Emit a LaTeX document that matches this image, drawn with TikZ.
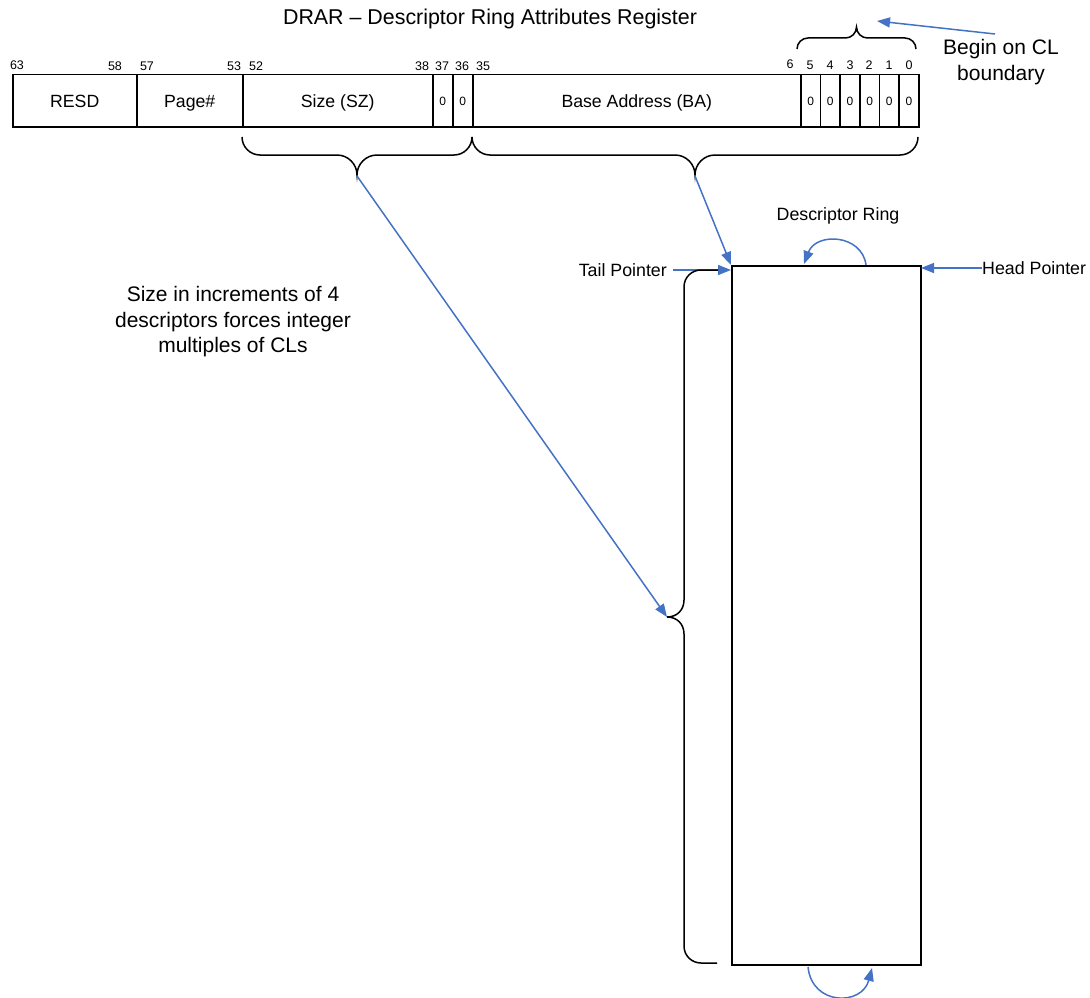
\documentclass[tikz,border=0pt]{standalone}
\usepackage{fontspec}
\setmainfont{Liberation Sans}
\usetikzlibrary{arrows.meta}
\definecolor{ptrblue}{HTML}{4472C4}

% horizontal curly brace: x1, x2, y of the ends, y of the bar, y of the tip
\newcommand\regbrace[5]{%
  \pgfmathsetmacro\bxm{(#1+#2)/2}%
  \pgfmathsetmacro\bra{abs(#4-#3)}%
  \pgfmathsetmacro\brb{abs(#5-#4)}%
  \draw[bracket] (#1,#3)
    .. controls (#1,{#3+0.55*(#4-#3)}) and ({#1+0.45*\bra},#4) .. ({#1+\bra},#4)
    -- ({\bxm-\brb},#4)
    .. controls ({\bxm-0.45*\brb},#4) and (\bxm,{#4+0.45*(#5-#4)}) .. (\bxm,#5)
    .. controls (\bxm,{#4+0.45*(#5-#4)}) and ({\bxm+0.45*\brb},#4) .. ({\bxm+\brb},#4)
    -- ({#2-\bra},#4)
    .. controls ({#2-0.45*\bra},#4) and (#2,{#3+0.55*(#4-#3)}) .. (#2,#3);}

\begin{document}
\begin{tikzpicture}[x=1pt,y=-1pt,
  field/.style={draw=black,line width=1.5pt,minimum height=52pt,inner sep=0pt,
    anchor=north west,text height=12.7pt,text depth=0pt,
    font=\fontsize{17.7}{20}\selectfont},
  zerobit/.style={field,minimum width=19.67pt,text height=8.6pt,
    font=\fontsize{12}{14}\selectfont},
  bitnum/.style={inner sep=0pt,font=\fontsize{12.5}{14}\selectfont},
  label/.style={inner sep=0pt,font=\fontsize{17.8}{20}\selectfont},
  bigtext/.style={inner sep=0pt,align=center,font=\fontsize{21}{25.5}\selectfont},
  bracket/.style={draw=black,line width=1.5pt},
  ptr/.style={draw=ptrblue,line width=1.5pt,-{Triangle[length=13pt,width=10pt]}}]
\useasboundingbox (0,0) rectangle (1090,998);

% title
\node[bigtext,font=\fontsize{21.4}{25}\selectfont] (title) at (490,19)
  {DRAR -- Descriptor Ring Attributes Register};

% register fields
\node[field,minimum width=124pt] (resd) at (12,74) {RESD};
\node[field,minimum width=106pt] (page) at (136,74) {Page\#};
\node[field,minimum width=190pt] (size) at (242,74) {Size (SZ)};
\node[zerobit,minimum width=20pt] (z37) at (432,74) {0};
\node[zerobit,minimum width=20pt] (z36) at (452,74) {0};
\node[field,minimum width=328pt] (base) at (472,74) {Base Address (BA)};
\node[zerobit] (z5) at (800,74) {0};
\node[zerobit] (z4) at (819.67,74) {0};
\node[zerobit] (z3) at (839.33,74) {0};
\node[zerobit] (z2) at (859,74) {0};
\node[zerobit] (z1) at (878.67,74) {0};
\node[zerobit] (z0) at (898.33,74) {0};

% bit numbers
\node[bitnum] (b63) at (17,65) {63};
\node[bitnum] (b58) at (115,66) {58};
\node[bitnum] (b57) at (147,66) {57};
\node[bitnum] (b53) at (234,66) {53};
\node[bitnum] (b52) at (256,66) {52};
\node[bitnum] (b38) at (422,66) {38};
\node[bitnum] (b37) at (442,66) {37};
\node[bitnum] (b36) at (462,66) {36};
\node[bitnum] (b35) at (483,66) {35};
\node[bitnum] (b6) at (790,64) {6};
\node[bitnum] (b5) at (810,65) {5};
\node[bitnum] (b4) at (830,65) {4};
\node[bitnum] (b3) at (850,65) {3};
\node[bitnum] (b2) at (869,65) {2};
\node[bitnum] (b1) at (889,65) {1};
\node[bitnum] (b0) at (909,65) {0};

% braces
\regbrace{797}{916}{49}{38}{27}
\regbrace{242}{472}{137}{155}{175}
\regbrace{472}{918}{137}{155}{175}
\coordinate (sztip) at (357,176);
\coordinate (batip) at (695,176);

\node[bigtext] (begin) at (1001,62) {Begin on CL\\boundary};
\coordinate (beginfrom) at (995,34);
\coordinate (clmark) at (877,21);
\draw[ptr] (beginfrom) -- (clmark);

% descriptor ring
\node[draw=black,line width=1.5pt,minimum width=189pt,minimum height=699pt,
  inner sep=0pt,anchor=north west] (ring) at (731,265) {};
\node[label] (ringlbl) at (838,216) {Descriptor Ring};
\node[label,anchor=east] (tail) at (667,270) {Tail Pointer};
\node[label,anchor=west] (head) at (982,268) {Head Pointer};
\coordinate (tailhit) at (731,270);
\coordinate (headhit) at (921,268);
\draw[ptr] (tail.east) ++(6,0) -- (tailhit);
\draw[ptr] (head.west) -- (headhit);

% ring extent brace
\draw[bracket] (718,270) -- (701,270)
  .. controls (692,270) and (684,277) .. (684,287) -- (684,600)
  .. controls (684,610) and (677,617) .. (667,617)
  .. controls (677,617) and (684,624) .. (684,634) -- (684,946)
  .. controls (684,956) and (692,963) .. (701,963) -- (717,963);
\coordinate (ringtip) at (667,617);

% wrap-around arcs
\draw[ptr] (866,265) .. controls (862,234) and (816,232) .. (804,264);
\draw[ptr] (808,967) .. controls (812,1006) and (862,1006) .. (872,968);

% size / base pointers
\draw[ptr] (sztip) -- (ringtip);
\draw[ptr] (batip) -- (ring.north west);

\node[bigtext] (sizenote) at (233,322)
  {Size in increments of 4\\descriptors forces integer\\multiples of CLs};
\end{tikzpicture}
\end{document}
